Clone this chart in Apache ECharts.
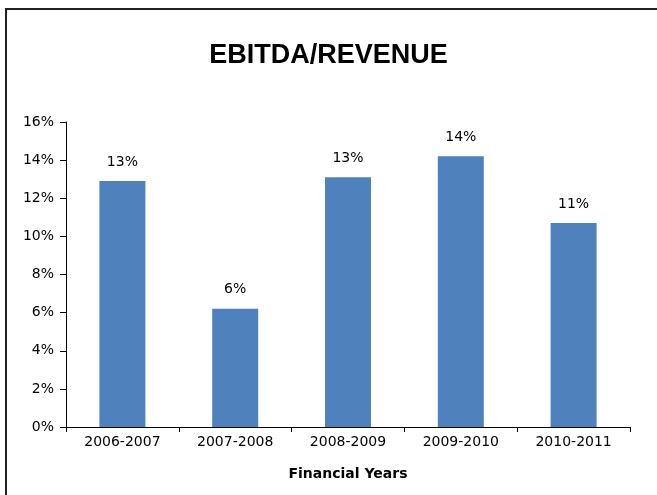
<!DOCTYPE html>
<html>
<head>
<meta charset="utf-8">
<script src="https://cdn.jsdelivr.net/npm/echarts@6/dist/echarts.min.js"></script>
<style>
  html, body { margin: 0; padding: 0; background: #fff; }
  #chart { width: 657px; height: 495px; }
</style>
</head>
<body>
<div id="chart"></div>
<script>
// data
var years = ["2006-2007", "2007-2008", "2008-2009", "2009-2010", "2010-2011"];
var ebitdaRatio = [12.9, 6.2, 13.1, 14.2, 10.7];

var chart = echarts.init(document.getElementById("chart"));

chart.setOption({
  animation: false,
  title: {
    text: "EBITDA/REVENUE",
    left: "center",
    top: 37,
    textStyle: {
      fontFamily: "Liberation Sans",
      fontWeight: "bold",
      fontSize: 27,
      color: "#000"
    }
  },
  // outer frame, runs off the right and bottom edges like the original
  graphic: [
    {
      type: "rect",
      shape: { x: 6, y: 9, width: 700, height: 600 },
      style: { fill: "none", stroke: "#222", lineWidth: 2 },
      silent: true
    }
  ],
  grid: {
    left: 66,
    right: 27,
    top: 122,
    bottom: 68
  },
  xAxis: {
    type: "category",
    data: years,
    name: "Financial Years",
    nameLocation: "middle",
    nameGap: 40,
    nameTextStyle: {
      fontFamily: "DejaVu Sans",
      fontWeight: "bold",
      fontSize: 14,
      color: "#000"
    },
    axisLine: { lineStyle: { color: "#000", width: 1 } },
    axisTick: { show: true, length: 5, lineStyle: { color: "#000" } },
    axisLabel: {
      fontFamily: "DejaVu Sans",
      fontSize: 14,
      color: "#000",
      margin: 8
    }
  },
  yAxis: {
    type: "value",
    min: 0,
    max: 16,
    interval: 2,
    splitLine: { show: false },
    axisLine: { show: true, lineStyle: { color: "#000", width: 1 } },
    axisTick: { show: true, length: 6, lineStyle: { color: "#000" } },
    axisLabel: {
      fontFamily: "DejaVu Sans",
      fontSize: 14,
      color: "#000",
      margin: 12,
      formatter: "{value}%"
    }
  },
  series: [
    {
      type: "bar",
      data: ebitdaRatio,
      barWidth: 46,
      itemStyle: { color: "#4F81BD" },
      label: {
        show: true,
        position: "top",
        distance: 12,
        fontFamily: "DejaVu Sans",
        fontSize: 14,
        color: "#000",
        formatter: function (p) {
          return Math.round(p.value) + "%";
        }
      }
    }
  ]
});
</script>
</body>
</html>
